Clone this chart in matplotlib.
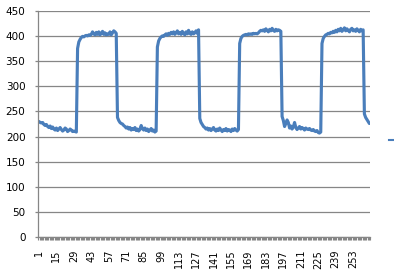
import matplotlib
matplotlib.use("Agg")
import matplotlib.pyplot as plt
from matplotlib.lines import Line2D

# значения по участкам (низкий уровень / высокий уровень)
low1 = [230, 228, 227, 228, 224, 222, 224, 220, 218, 221,
        216, 219, 215, 213, 217, 212, 215, 218, 214, 211,
        213, 217, 215, 210, 212, 215, 213, 210, 211, 210, 209]
high1 = [375, 388, 393, 397, 399, 398, 400, 401, 400, 402,
         401, 403, 408, 404, 402, 407, 403, 408, 402, 405,
         409, 403, 406, 402, 404, 403, 408, 402, 406, 410, 408, 405]
low2 = [238, 232, 228, 226, 225, 222, 220, 217, 219, 215,
        218, 213, 216, 214, 218, 212, 215, 211, 214, 222,
        216, 213, 217, 212, 215, 210, 213, 216, 211, 213, 209, 211]
high2 = [378, 390, 395, 398, 400, 399, 402, 404, 401, 405,
         403, 407, 404, 408, 403, 406, 410, 404, 407, 403,
         409, 405, 402, 408, 404, 411, 405, 403, 408, 404,
         406, 410, 405, 412]
low3 = [236, 228, 224, 220, 218, 215, 217, 213, 216, 212,
        215, 218, 213, 211, 215, 212, 217, 213, 210, 214,
        212, 216, 211, 214, 213, 210, 215, 212, 216, 213, 211, 214]
high3 = [385, 395, 399, 401, 402, 403, 402, 404, 403, 404,
         403, 405, 404, 405, 404, 406, 409, 411, 410, 412,
         409, 414, 411, 408, 413, 410, 415, 411, 409, 413,
         410, 412, 411, 409]
low4 = [240, 232, 220, 226, 233, 228, 217, 221, 215, 219,
        228, 218, 214, 217, 220, 215, 218, 216, 213, 217,
        215, 214, 216, 213, 212, 214, 211, 210, 212, 208, 207, 209]
high4 = [385, 395, 399, 402, 403, 405, 404, 407, 406, 409,
         407, 411, 408, 413, 410, 415, 409, 412, 416, 410,
         414, 411, 408, 413, 415, 410, 412, 409, 414, 411,
         408, 413, 410, 412]
tail = [245, 238, 234, 230, 226]

values = low1 + high1 + low2 + high2 + low3 + high3 + low4 + high4 + tail
cats = list(range(1, len(values) + 1))
tick_labels = list(range(1, len(values), 14))   # 1, 15, 29, ... 253

plt.rcParams['font.family'] = ['DejaVu Sans']

fig = plt.figure(figsize=(3.94, 2.75), dpi=100)
ax = fig.add_axes([38.3 / 394, 1 - 237.3 / 275, (370 - 38.3) / 394, (237.3 - 10.7) / 275])

grid_c = '#868686'
ax.plot(cats, values, color='#4A7EBB', lw=2.25,
        solid_joinstyle='round', solid_capstyle='round')

ax.set_xlim(0.5, len(values) + 0.5)
ax.set_ylim(0, 450)
ax.set_yticks(range(0, 451, 50))
ax.grid(axis='y', color=grid_c, lw=0.9)
ax.set_axisbelow(True)

for s in ['top', 'right']:
    ax.spines[s].set_visible(False)
for s in ['left', 'bottom']:
    ax.spines[s].set_color(grid_c)
    ax.spines[s].set_linewidth(0.9)

# подписи по оси X каждые 14 категорий, засечки между всеми категориями
ax.set_xticks(tick_labels)
ax.set_xticklabels([str(t) for t in tick_labels], rotation=90, fontsize=7)
ax.set_xticks([c + 0.5 for c in range(0, len(values) + 1)], minor=True)
ax.tick_params(axis='x', which='major', length=0, pad=9)
ax.tick_params(axis='x', which='minor', length=2.3, width=0.8, color=grid_c)
ax.tick_params(axis='y', length=2.3, width=0.9, color=grid_c, pad=7, labelsize=7.5)

# обрезанный маркер легенды справа
fig.add_artist(Line2D([389 / 394, 394 / 394], [1 - 140 / 275, 1 - 140 / 275],
                      color='#4A7EBB', lw=1.5))

fig.savefig('out.png', dpi=100)
